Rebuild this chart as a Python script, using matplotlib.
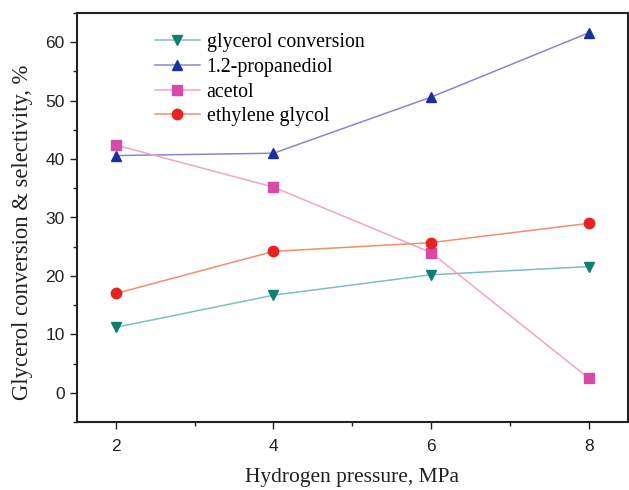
import matplotlib
matplotlib.use("Agg")
import matplotlib.pyplot as plt
from matplotlib.ticker import MultipleLocator

pressure = [2, 4, 6, 8]
glycerol_conversion = [11.2, 16.7, 20.2, 21.6]
propanediol = [40.6, 41.0, 50.6, 61.6]
acetol = [42.4, 35.2, 24.0, 2.5]
ethylene_glycol = [17.0, 24.2, 25.7, 29.0]

series = [
    ("glycerol conversion", glycerol_conversion, "v", "#7cc0bc", "#0f8070", 7.5),
    ("1.2-propanediol", propanediol, "^", "#8a88c8", "#1b2f9e", 7.5),
    ("acetol", acetol, "s", "#f0a4cc", "#d84aa8", 6.5),
    ("ethylene glycol", ethylene_glycol, "o", "#f0906c", "#e82222", 7.5),
]

fig = plt.figure(figsize=(6.29, 4.90), dpi=100)
ax = fig.add_axes([76.5 / 629, 68 / 490, (628 - 76.5) / 629, (422 - 13) / 490])

for label, vals, mk, lc, mc, ms in series:
    ax.plot(pressure, vals, color=lc, lw=1.1, marker=mk, markersize=ms,
            markerfacecolor=mc, markeredgecolor=mc, label=label)

ax.set_xlim(1.5, 8.5)
ax.set_ylim(-5, 65)
ax.xaxis.set_major_locator(MultipleLocator(2))
ax.xaxis.set_minor_locator(MultipleLocator(1))
ax.yaxis.set_major_locator(MultipleLocator(10))
ax.yaxis.set_minor_locator(MultipleLocator(5))
ax.tick_params(which="both", direction="out", top=False, right=False,
               labelsize=12.5, width=1.0, colors="#222222", labelcolor="#222222")
ax.tick_params(which="major", length=5)
ax.tick_params(which="minor", length=3)
ax.tick_params(axis="x", pad=7)
for lab in ax.get_xticklabels() + ax.get_yticklabels():
    lab.set_fontfamily("Liberation Sans")
for s in ax.spines.values():
    s.set_linewidth(1.5)
    s.set_color("#222222")

ax.set_xlabel("Hydrogen pressure, MPa", fontfamily="Liberation Serif",
              fontsize=15.5, color="#222222", labelpad=10)
ax.set_ylabel("Glycerol conversion & selectivity, %", fontfamily="Liberation Serif",
              fontsize=16.3, color="#222222")
ax.yaxis.set_label_coords(-0.078, 0.465)

ax.legend(loc="upper left", bbox_to_anchor=(0.142, 0.95), frameon=False,
          prop={"family": "Liberation Serif", "size": 14.3},
          handlelength=2.26, handletextpad=0.35, labelspacing=0.28, borderaxespad=0,
          borderpad=0)

fig.savefig("out.png", dpi=100)
